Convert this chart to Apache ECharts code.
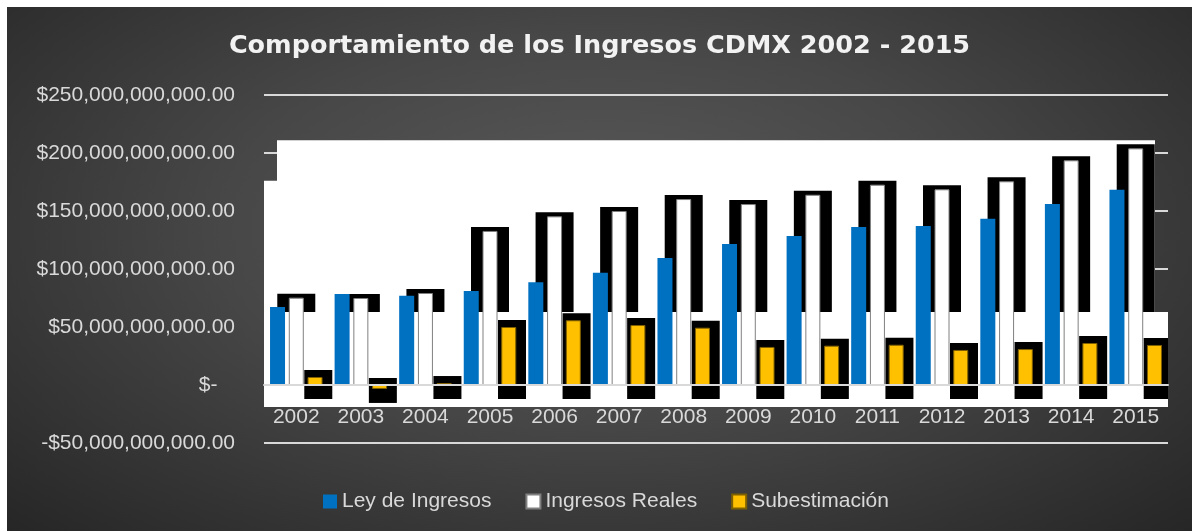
<!DOCTYPE html>
<html>
<head>
<meta charset="utf-8">
<script src="https://cdn.jsdelivr.net/npm/echarts@6/dist/echarts.min.js"></script>
<style>
  html, body { margin: 0; padding: 0; background: #fff; }
  #chart {
    position: absolute; left: 7px; top: 7px; width: 1185px; height: 524px;
    background: radial-gradient(ellipse at 50% 42%, #5a5a5a 0%, #474747 45%, #262626 100%);
  }
</style>
</head>
<body>
<div id="chart"></div>
<script>
// datos (pesos)
const years = ['2002', '2003', '2004', '2005', '2006', '2007', '2008',
               '2009', '2010', '2011', '2012', '2013', '2014', '2015'];
const leyIngresos = [67.2e9, 78.4e9, 77.0e9, 81.0e9, 88.5e9, 96.8e9, 109.5e9,
                     121.6e9, 128.4e9, 136.2e9, 137.1e9, 143.4e9, 156.0e9, 168.4e9];
const ingresosReales = [75.3e9, 75.0e9, 79.3e9, 132.8e9, 145.4e9, 150.0e9, 160.3e9,
                        156.0e9, 164.0e9, 172.7e9, 168.7e9, 175.6e9, 193.7e9, 204.0e9];
const subestimacion = [6.9e9, -3.4e9, 1.7e9, 50.0e9, 55.8e9, 51.7e9, 49.4e9,
                       32.8e9, 33.9e9, 34.7e9, 30.2e9, 31.0e9, 36.2e9, 34.5e9];
const yMin = -50e9, yMax = 250e9, yStep = 50e9;

const FONT = 'Liberation Sans';
const W = 1185, H = 524;
const GRID = { left: 257, right: 24, top: 88, bottom: 88 };
// el eje de categorias va sobre el cero (etiquetas incluidas)
const plotH = H - GRID.top - GRID.bottom;
const zeroOffset = -plotH * (0 - yMin) / (yMax - yMin);

function money(v) {
    if (v === 0) return '$-   ';
    const s = Math.abs(v).toLocaleString('en-US', { minimumFractionDigits: 2, maximumFractionDigits: 2 });
    return (v < 0 ? '-' : '') + '$' + s;
}

// sombra negra detras de las barras (el efecto de sombra de la grafica original)
function sombra(values, dxLeft, dxRight, padTop, padBottom, z) {
    return {
        type: 'custom',
        name: 'sombra',
        z: z,
        silent: true,
        clip: true,
        data: values.map((v, i) => [i, v]),
        encode: { x: 0, y: 1 },
        renderItem: function (params, api) {
            const p = api.coord([api.value(0), api.value(1)]);
            const p0 = api.coord([api.value(0), 0]);
            const top = Math.min(p[1], p0[1]) - padTop;
            const bottom = Math.max(p[1], p0[1]) + padBottom;
            return {
                type: 'rect',
                shape: { x: p[0] + dxLeft, y: top, width: dxRight - dxLeft, height: bottom - top },
                style: { fill: '#000' }
            };
        }
    };
}

const option = {
    animation: false,
    title: {
        text: 'Comportamiento de los Ingresos CDMX 2002 - 2015',
        left: 'center',
        top: 26,
        padding: 0,
        textStyle: { fontFamily: 'DejaVu Sans', fontWeight: 'bold', fontSize: 25.5, color: '#f2f2f2' }
    },
    legend: {
        data: ['Ley de Ingresos', 'Ingresos Reales', 'Subestimación'],
        left: 316,
        top: 484,
        padding: 0,
        icon: 'rect',
        itemWidth: 14,
        itemHeight: 14,
        itemGap: 34,
        textStyle: { fontFamily: FONT, fontSize: 21, color: '#d9d9d9' }
    },
    grid: GRID,
    xAxis: {
        type: 'category',
        data: years,
        z: 7,
        offset: zeroOffset,
        axisLine: { onZero: false, lineStyle: { color: '#d9d9d9', width: 2 } },
        axisTick: { show: false },
        axisLabel: { margin: 22, fontFamily: FONT, fontSize: 21, color: '#d9d9d9' }
    },
    yAxis: {
        type: 'value',
        min: yMin,
        max: yMax,
        interval: yStep,
        axisLine: { show: false },
        axisTick: { show: false },
        splitLine: { lineStyle: { color: '#d9d9d9', width: 2 } },
        axisLabel: { margin: 29, fontFamily: FONT, fontSize: 21, color: '#d9d9d9', formatter: money }
    },
    series: [
        sombra(ingresosReales, -19, 19, 4, 0, 2),
        sombra(subestimacion, 8, 36, 7, 14, 4.5),
        {
            name: 'Ley de Ingresos', type: 'bar', data: leyIngresos,
            barWidth: 15, barGap: '25%', z: 5,
            itemStyle: { color: '#0070c0' }
        },
        {
            name: 'Ingresos Reales', type: 'bar', data: ingresosReales,
            barWidth: 15, barGap: '25%', z: 4,
            itemStyle: { color: '#ffffff', borderColor: '#808080', borderWidth: 1 }
        },
        {
            name: 'Subestimación', type: 'bar', data: subestimacion,
            barWidth: 15, barGap: '25%', z: 6,
            itemStyle: { color: '#ffc000', borderColor: '#7f6000', borderWidth: 1 }
        }
    ]
};

const chart = echarts.init(document.getElementById('chart'));
chart.setOption(option);

// fondo blanco del area de trazado (como sale en la imagen)
const py = v => chart.convertToPixel({ yAxisIndex: 0 }, v);
const L = GRID.left, R = W - GRID.right;
const bandBottom = py(-19e9);
chart.setOption({
    graphic: [
        { type: 'rect', z: 1, silent: true, shape: { x: L + 13, y: py(211e9), width: R - L - 26, height: bandBottom - py(211e9) }, style: { fill: '#fff' } },
        { type: 'rect', z: 1, silent: true, shape: { x: L, y: py(176e9), width: 14, height: bandBottom - py(176e9) }, style: { fill: '#fff' } },
        { type: 'rect', z: 3, silent: true, shape: { x: L, y: py(63e9), width: R - L, height: bandBottom - py(63e9) }, style: { fill: '#fff' } }
    ]
});
</script>
</body>
</html>
